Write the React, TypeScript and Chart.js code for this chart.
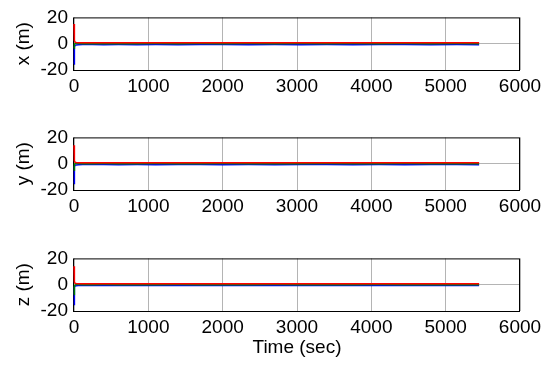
import React, { useEffect, useRef } from "react";
import { Chart, registerables } from "chart.js";

Chart.register(...registerables);

const timeSec = [0, 3, 8, 15, 30, 60, 120, 250, 400, 600, 850, 1100, 1400, 1700, 2000, 2350, 2700, 3050, 3400, 3750, 4100, 4450, 4800, 5150, 5450];

const xRed = [15, 6, 2.5, 1.2, 0.9, 0.8, 0.7, 0.7, 0.8, 0.7, 0.8, 0.7, 0.8, 0.7, 0.8, 0.7, 0.8, 0.8, 0.7, 0.8, 0.7, 0.8, 0.7, 0.8, 0.7];
const xGreen = [-3.5, -1.5, -0.6, 0.2, 0.3, 0.1, 0, 0.1, -0.1, 0.1, 0, 0.1, 0, 0.1, 0, 0.1, 0, 0.1, 0, 0.1, 0, 0.1, 0, 0.1, 0];
const xBlue = [-15.5, -6, -2.5, -1.3, -0.9, -0.8, -0.7, -0.7, -0.8, -0.7, -0.8, -0.7, -0.8, -0.7, -0.7, -0.8, -0.7, -0.8, -0.7, -0.8, -0.7, -0.7, -0.8, -0.7, -0.8];

const yRed = [14, 5.5, 2.2, 1.1, 0.9, 0.8, 0.7, 0.7, 0.8, 0.8, 0.7, 0.8, 0.7, 0.8, 0.7, 0.8, 0.7, 0.8, 0.7, 0.8, 0.8, 0.7, 0.8, 0.7, 0.8];
const yGreen = [-5, -2, -0.8, 0.1, 0.2, 0.1, 0, 0, 0.1, 0, 0, 0.1, 0, 0, 0.1, 0, 0, 0, 0.1, 0, 0, 0.1, 0, 0, 0];
const yBlue = [-15, -5.5, -2.2, -1.1, -0.9, -0.8, -0.7, -0.7, -0.7, -0.8, -0.7, -0.8, -0.7, -0.7, -0.8, -0.7, -0.8, -0.7, -0.7, -0.8, -0.7, -0.8, -0.7, -0.7, -0.8];

const zRed = [14, 5, 2, 1, 0.9, 0.8, 0.7, 0.7, 0.8, 0.7, 0.8, 0.7, 0.8, 0.7, 0.8, 0.7, 0.8, 0.7, 0.8, 0.7, 0.8, 0.7, 0.8, 0.7, 0.8];
const zGreen = [-7.5, -3, -1.2, -0.2, 0.2, 0.1, 0, 0, 0.1, 0, 0, 0, 0.1, 0, 0, 0, 0.1, 0, 0, 0, 0.1, 0, 0, 0, 0];
const zBlue = [-15, -5, -2, -1, -0.8, -0.7, -0.7, -0.6, -0.7, -0.6, -0.7, -0.6, -0.7, -0.6, -0.7, -0.6, -0.7, -0.6, -0.7, -0.6, -0.7, -0.6, -0.7, -0.6, -0.7];

const xTicks = [0, 1000, 2000, 3000, 4000, 5000, 6000];
const yTicks = [-20, 0, 20];
const yLabels = ["x (m)", "y (m)", "z (m)"];
const xLabel = "Time (sec)";

const FONT = "'Liberation Sans', Arial, sans-serif";
const FS = 19;
const W = 552;
const PLOT_LEFT = 74;
const PLOT_RIGHT = 520;
const PLOT_H = 57;
const PAD_TOP = 13;
const plotTops = [13, 133, 254];

const boxPlugin = {
  id: "boxPlugin",
  beforeDatasetsDraw(chart: any) {
    const { ctx, chartArea } = chart;
    ctx.save();
    ctx.strokeStyle = "#000";
    ctx.lineWidth = 1;
    ctx.strokeRect(chartArea.left - 0.5, chartArea.top + 0.5, chartArea.right - chartArea.left, chartArea.bottom - chartArea.top);
    ctx.restore();
  },
};

function makeSeries(vals: number[]) {
  return timeSec.map((t, i) => ({ x: t, y: vals[i] }));
}

function Panel({ idx, red, green, blue, showTitle }: any) {
  const ref = useRef<HTMLCanvasElement>(null);
  const axisH = showTitle ? 48 : 30;
  const height = PAD_TOP + PLOT_H + axisH;
  useEffect(() => {
    const common = { pointRadius: 0, borderWidth: 1.5, clip: 4, fill: false, tension: 0 };
    const chart = new Chart(ref.current as HTMLCanvasElement, {
      type: "line",
      data: {
        datasets: [
          { ...common, data: makeSeries(blue), borderColor: "#0000ff", order: 2 },
          { ...common, data: makeSeries(green), borderColor: "#008000", order: 1 },
          { ...common, data: makeSeries(red), borderColor: "#ff0000", order: 0 },
        ],
      },
      options: {
        animation: false,
        responsive: false,
        events: [],
        layout: { padding: { top: PAD_TOP, left: 0, right: W - PLOT_RIGHT, bottom: 0 } },
        plugins: { legend: { display: false }, tooltip: { enabled: false } },
        scales: {
          x: {
            type: "linear",
            min: xTicks[0],
            max: xTicks[xTicks.length - 1],
            afterBuildTicks: (s: any) => { s.ticks = xTicks.map((v) => ({ value: v })); },
            afterFit: (s: any) => { s.height = axisH; },
            border: { display: false },
            grid: { color: "#b4b4b4", lineWidth: 1, drawTicks: false },
            ticks: { color: "#000", font: { family: FONT, size: FS }, padding: 5, maxRotation: 0, autoSkip: false, callback: (v: any) => String(v) },
            title: showTitle
              ? { display: true, text: xLabel, color: "#000", font: { family: FONT, size: FS }, padding: { top: 0, bottom: 0 } }
              : { display: false },
          },
          y: {
            type: "linear",
            min: yTicks[0],
            max: yTicks[yTicks.length - 1],
            afterBuildTicks: (s: any) => { s.ticks = yTicks.map((v) => ({ value: v })); },
            afterFit: (s: any) => { s.width = PLOT_LEFT; },
            border: { display: false },
            grid: { color: (c: any) => (c.tick && c.tick.value === 0 ? "#b4b4b4" : "rgba(0,0,0,0)"), lineWidth: 1, drawTicks: false },
            ticks: { color: "#000", font: { family: FONT, size: FS }, padding: 6, callback: (v: any) => String(v) },
            title: { display: true, text: yLabels[idx], color: "#000", font: { family: FONT, size: FS }, padding: { top: 12, bottom: 0 } },
          },
        },
      },
      plugins: [boxPlugin],
    } as any);
    return () => chart.destroy();
  }, []);
  return (
    <canvas
      ref={ref}
      width={W}
      height={height}
      style={{ position: "absolute", left: 0, top: plotTops[idx] - PAD_TOP, width: W, height }}
    />
  );
}

export default function App() {
  useEffect(() => {
    document.body.style.margin = "0";
  }, []);
  return (
    <div style={{ position: "relative", width: W, height: 365, background: "#fff", overflow: "hidden" }}>
      <Panel idx={0} red={xRed} green={xGreen} blue={xBlue} showTitle={false} />
      <Panel idx={1} red={yRed} green={yGreen} blue={yBlue} showTitle={false} />
      <Panel idx={2} red={zRed} green={zGreen} blue={zBlue} showTitle={true} />
    </div>
  );
}
